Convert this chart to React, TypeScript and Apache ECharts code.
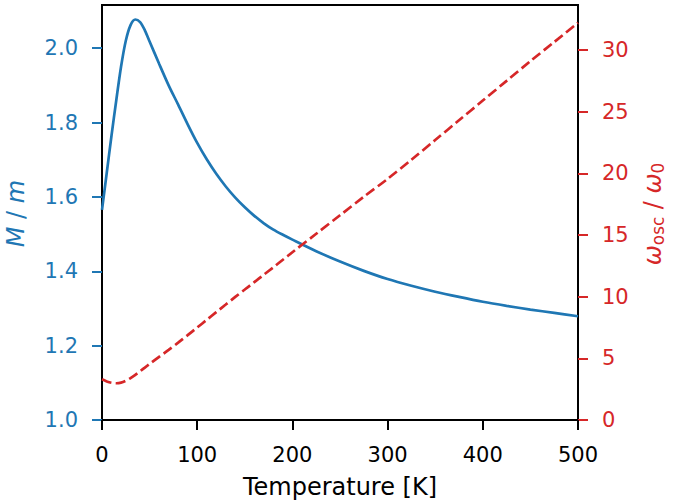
import React, { useEffect, useRef } from "react";
import * as echarts from "echarts";

const temps = [0, 5, 10, 15, 20, 25, 30, 35, 40, 45, 50, 60, 70, 80, 90, 100, 110, 120, 130, 140, 150, 160, 170, 180, 190, 200, 225, 250, 275, 300, 325, 350, 375, 400, 425, 450, 475, 500];
const massRatio = [1.565, 1.665, 1.765, 1.86, 1.95, 2.02, 2.062, 2.077, 2.07, 2.048, 2.018, 1.958, 1.9, 1.848, 1.795, 1.745, 1.701, 1.662, 1.628, 1.598, 1.572, 1.549, 1.529, 1.512, 1.498, 1.485, 1.454, 1.426, 1.401, 1.379, 1.361, 1.345, 1.331, 1.318, 1.307, 1.297, 1.288, 1.279];
const freqRatio = [3.3, 3.13, 3.02, 2.98, 3.03, 3.18, 3.4, 3.66, 3.95, 4.25, 4.55, 5.12, 5.68, 6.27, 6.88, 7.5, 8.12, 8.75, 9.36, 9.98, 10.58, 11.18, 11.78, 12.38, 12.99, 13.6, 15.1, 16.6, 18.1, 19.55, 21.1, 22.7, 24.3, 25.9, 27.5, 29.1, 30.65, 32.2];
const xTicks = [0, 100, 200, 300, 400, 500];
const leftTicks = [1.0, 1.2, 1.4, 1.6, 1.8, 2.0];
const rightTicks = [0, 5, 10, 15, 20, 25, 30];

const BLUE = "#1f77b4";
const RED = "#d62728";
const FONT = "DejaVu Sans";

function measure(text: string, font: string, fallback: number): number {
  try {
    const c = document.createElement("canvas");
    const ctx = c.getContext("2d");
    if (ctx) {
      ctx.font = font;
      return ctx.measureText(text).width;
    }
  } catch (e) {}
  return fallback;
}

type Tok = { text: string; size: number; italic: boolean; sub: boolean };

function buildLabel(tokens: Tok[], cx: number, cy: number, color: string, subShift: number) {
  const widths = tokens.map((t) =>
    measure(t.text, `${t.italic ? "italic " : ""}${t.size}px '${FONT}'`, t.text.length * t.size * 0.6)
  );
  const total = widths.reduce((a, b) => a + b, 0);
  let x = -total / 2;
  const children = tokens.map((t, i) => {
    const el = {
      type: "text",
      x,
      y: t.sub ? subShift : 0,
      style: {
        text: t.text,
        fontSize: t.size,
        fontFamily: FONT,
        fontStyle: t.italic ? "italic" : "normal",
        fill: color,
        align: "left",
        verticalAlign: "middle",
        textAlign: "left",
        textVerticalAlign: "middle",
      },
    };
    x += widths[i];
    return el;
  });
  return { type: "group", x: cx, y: cy, rotation: Math.PI / 2, children };
}

export default function App() {
  const ref = useRef<HTMLDivElement>(null);
  useEffect(() => {
    if (!ref.current) return;
    const chart = echarts.init(ref.current, null, { renderer: "svg" });
    const massData = temps.map((t, i) => [t, massRatio[i]]);
    const freqData = temps.map((t, i) => [t, freqRatio[i]]);
    const leftLabel = buildLabel(
      [
        { text: "M", size: 24, italic: true, sub: false },
        { text: " / ", size: 24, italic: false, sub: false },
        { text: "m", size: 24, italic: true, sub: false },
      ],
      15.9,
      213.5,
      BLUE,
      0
    );
    const rightLabel = buildLabel(
      [
        { text: "ω", size: 24, italic: true, sub: false },
        { text: "osc", size: 16.8, italic: false, sub: true },
        { text: " / ", size: 24, italic: false, sub: false },
        { text: "ω", size: 24, italic: true, sub: false },
        { text: "0", size: 16.8, italic: false, sub: true },
      ],
      652.7,
      214,
      RED,
      5.5
    );
    chart.setOption({
      animation: false,
      backgroundColor: "#ffffff",
      grid: {
        left: 102,
        right: 102,
        top: 5,
        bottom: 80,
        show: true,
        borderColor: "#000",
        borderWidth: 2,
        backgroundColor: "transparent",
        containLabel: false,
        outerBoundsMode: "none",
      },
      xAxis: {
        type: "value",
        min: 0,
        max: 500,
        interval: 100,
        name: "Temperature [K]",
        nameLocation: "middle",
        nameGap: 55,
        nameTextStyle: { color: "#000", fontSize: 24, fontFamily: FONT },
        axisLine: { show: true, lineStyle: { color: "#000", width: 2 } },
        axisTick: { show: true, inside: false, length: 10, lineStyle: { color: "#000", width: 2 }, customValues: xTicks },
        axisLabel: { color: "#000", fontSize: 21, fontFamily: FONT, margin: 24, customValues: xTicks },
        splitLine: { show: false },
      },
      yAxis: [
        {
          type: "value",
          position: "left",
          min: 1.0,
          max: 2.116,
          axisLine: { show: true, lineStyle: { color: "#000", width: 2 } },
          axisTick: { show: true, inside: false, length: 10, lineStyle: { color: BLUE, width: 2 }, customValues: leftTicks },
          axisLabel: {
            color: BLUE,
            fontSize: 21,
            fontFamily: FONT,
            margin: 24,
            customValues: leftTicks,
            formatter: (v: number) => v.toFixed(1),
          },
          splitLine: { show: false },
        },
        {
          type: "value",
          position: "right",
          min: 0,
          max: 33.65,
          axisLine: { show: true, lineStyle: { color: "#000", width: 2 } },
          axisTick: { show: true, inside: false, length: 10, lineStyle: { color: RED, width: 2 }, customValues: rightTicks },
          axisLabel: {
            color: RED,
            fontSize: 21,
            fontFamily: FONT,
            margin: 24,
            customValues: rightTicks,
            formatter: (v: number) => String(v),
          },
          splitLine: { show: false },
        },
      ],
      series: [
        {
          type: "line",
          yAxisIndex: 0,
          data: massData,
          smooth: 0.3,
          showSymbol: false,
          lineStyle: { color: BLUE, width: 2.7 },
          itemStyle: { color: BLUE },
          z: 2,
        },
        {
          type: "line",
          yAxisIndex: 1,
          data: freqData,
          smooth: 0.3,
          showSymbol: false,
          lineStyle: { color: RED, width: 2.7, type: [10, 4.3], cap: "butt" },
          itemStyle: { color: RED },
          z: 3,
        },
      ],
      graphic: [leftLabel, rightLabel],
    });
    return () => chart.dispose();
  }, []);
  return (
    <div
      ref={ref}
      style={{ position: "fixed", left: 0, top: 0, width: 680, height: 500, background: "#fff" }}
    />
  );
}
